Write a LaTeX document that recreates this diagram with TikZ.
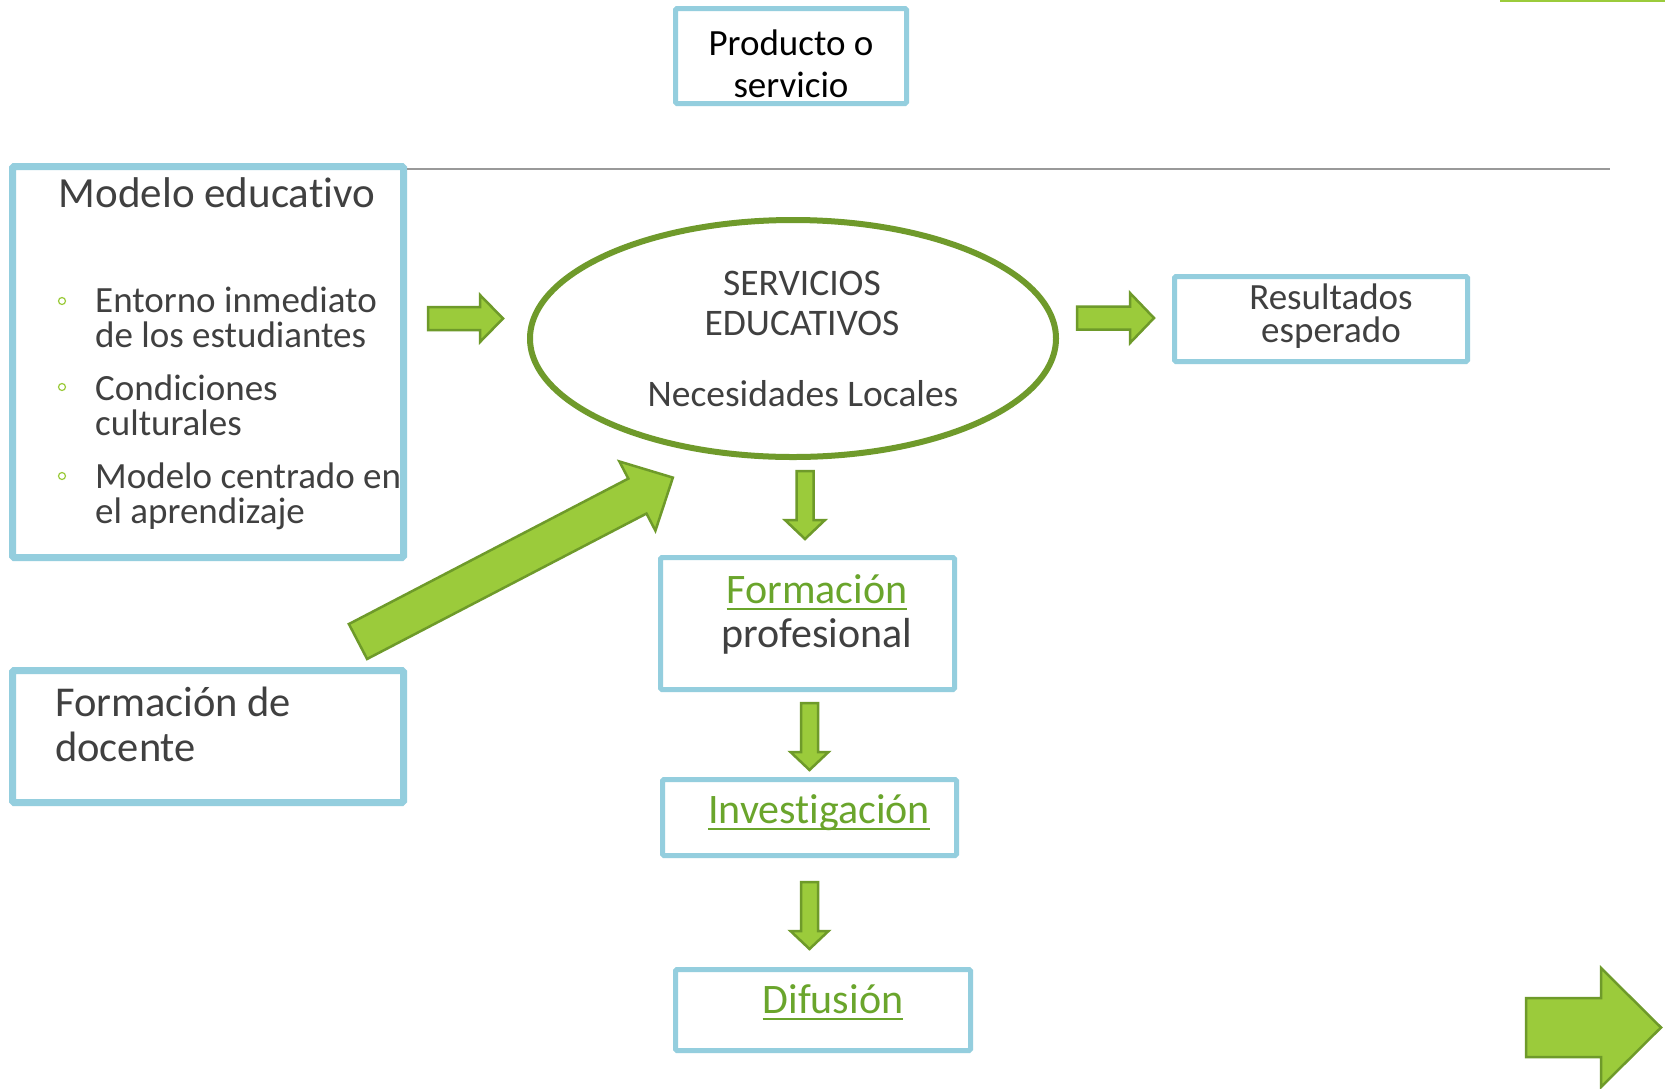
\documentclass[tikz,border=0pt]{standalone}
\usepackage{fontspec}
\setmainfont{Carlito}[Ligatures=NoCommon]
\usetikzlibrary{shapes.geometric,positioning}
\definecolor{boxblue}{HTML}{94CEDE}
\definecolor{ringgreen}{HTML}{6F9A2B}
\definecolor{arrowfill}{HTML}{9BCB3B}
\definecolor{arrowedge}{HTML}{6E9A2A}
\definecolor{linkgreen}{HTML}{6AA52C}
\definecolor{textgray}{HTML}{404040}
\newcommand{\fsz}[2]{\fontsize{#1}{#2}\selectfont}
\newcommand{\ulink}[1]{\setbox0\hbox{#1}\rlap{\color{linkgreen}\rule[-7pt]{\wd0}{2.5pt}}\box0}
\tikzset{bluebox/.style={draw=boxblue,line width=5pt,rounded corners=1.5pt,inner sep=0pt}}
\tikzset{txt/.style={inner sep=0pt,text=textgray,anchor=base}}
\tikzset{arrowbody/.style={draw=arrowedge,fill=arrowfill,line width=2.5pt,line join=miter}}
\tikzset{bulletdot/.style={draw=arrowfill,circle,line width=1.2pt,inner sep=0pt,minimum size=7pt}}
\tikzset{pics/blockarrow/.style args={#1/#2/#3/#4}{code={
  \draw[arrowbody] (0,-#2) -- ({#1-#4},-#2) -- ({#1-#4},-#3) -- (#1,0)
     -- ({#1-#4},#3) -- ({#1-#4},#2) -- (0,#2) -- cycle;
}}}

\begin{document}
\begin{tikzpicture}[x=1pt,y=-1pt]
    \useasboundingbox[fill=white] (0,0) rectangle (1665,1088);
    % cajas
    \node[bluebox,minimum width=231,minimum height=95] (prod) at (791,56) {};
    \node[bluebox,line width=7pt,minimum width=391,minimum height=391] (modelo) at (208,362) {};
    \node[bluebox,line width=7pt,minimum width=391,minimum height=132] (docente) at (208,736.5) {};
    \node[bluebox,minimum width=293,minimum height=85] (result) at (1321,319) {};
    \node[bluebox,minimum width=294,minimum height=132] (formprof) at (807.5,623.5) {};
    \node[bluebox,minimum width=294,minimum height=76] (invest) at (809.5,817.5) {};
    \node[bluebox,minimum width=295,minimum height=81] (difus) at (823,1010) {};
    \node[draw=ringgreen,ellipse,line width=6pt,minimum width=526,minimum height=237] (serv) at (793,338.5) {};

    % linea
    \coordinate (sepL) at (407,169);
    \coordinate (sepR) at (1610,169);
    \draw[gray!80,line width=2pt] (sepL) -- (sepR);
    \draw[arrowfill,line width=2pt] (1500,0.5) -- (1665,0.5);

    % textos (base = ultima linea)
    \node[txt,text=black,align=center,font=\fsz{37}{42}] (prodtxt) at (791,97) {Producto o\\servicio};
    \node[txt,font=\fsz{43}{44}] (modtitle) at (217,207) {Modelo educativo};
    \node[txt,anchor=base west,align=left,font=\fsz{37}{35}] (item1) at (95,347) {Entorno inmediato\\de los estudiantes};
    \node[txt,anchor=base west,align=left,font=\fsz{37}{35}] (item2) at (95,435) {Condiciones\\culturales};
    \node[txt,anchor=base west,align=left,font=\fsz{37}{35}] (item3) at (95,523) {Modelo centrado en\\el aprendizaje};
    \node[bulletdot] (dot1) at (62,301) {};
    \node[bulletdot] (dot2) at (62,387) {};
    \node[bulletdot] (dot3) at (62,476) {};
    \node[txt,align=center,font=\fsz{37.5}{40}] (servtxt) at (802,335) {SERVICIOS\\EDUCATIVOS};
    \node[txt,font=\fsz{37.5}{40}] (necesid) at (803,406) {Necesidades Locales};
    \node[txt,align=center,font=\fsz{37}{33}] (resulttxt) at (1331,342) {Resultados\\esperado};
    \node[txt,align=center,font=\fsz{42}{44}] (formtxt) at (817,647) {\textcolor{linkgreen}{\ulink{Formación}}\\profesional};
    \node[txt,text=linkgreen,font=\fsz{42}{44}] (investtxt) at (819,823) {\ulink{Investigación}};
    \node[txt,text=linkgreen,font=\fsz{42}{44}] (difustxt) at (833,1013) {\ulink{Difusión}};
    \node[txt,anchor=base west,align=left,font=\fsz{42.5}{45}] (docentetxt) at (55,761) {Formación de\\docente};

    % flechas
    \pic (arrL) at (428,318.5) {blockarrow=75/11.5/23.5/23};
    \pic (arrR) at (1077,318) {blockarrow=77/11.5/25/24};
    \pic[rotate=-90] (arrD1) at (805,471) {blockarrow=68/8.5/20/19};
    \pic[rotate=-90] (arrD2) at (809.5,703) {blockarrow=67/8.5/19/18};
    \pic[rotate=-90] (arrD3) at (809.5,882) {blockarrow=67/8.5/19/18};
    \pic[rotate=27.5] (arrBig) at (358,641.5) {blockarrow=355/19.7/39/40};
    \pic (arrCorner) at (1526,1027.5) {blockarrow=135/29.5/59.5/60};
\end{tikzpicture}
\end{document}
